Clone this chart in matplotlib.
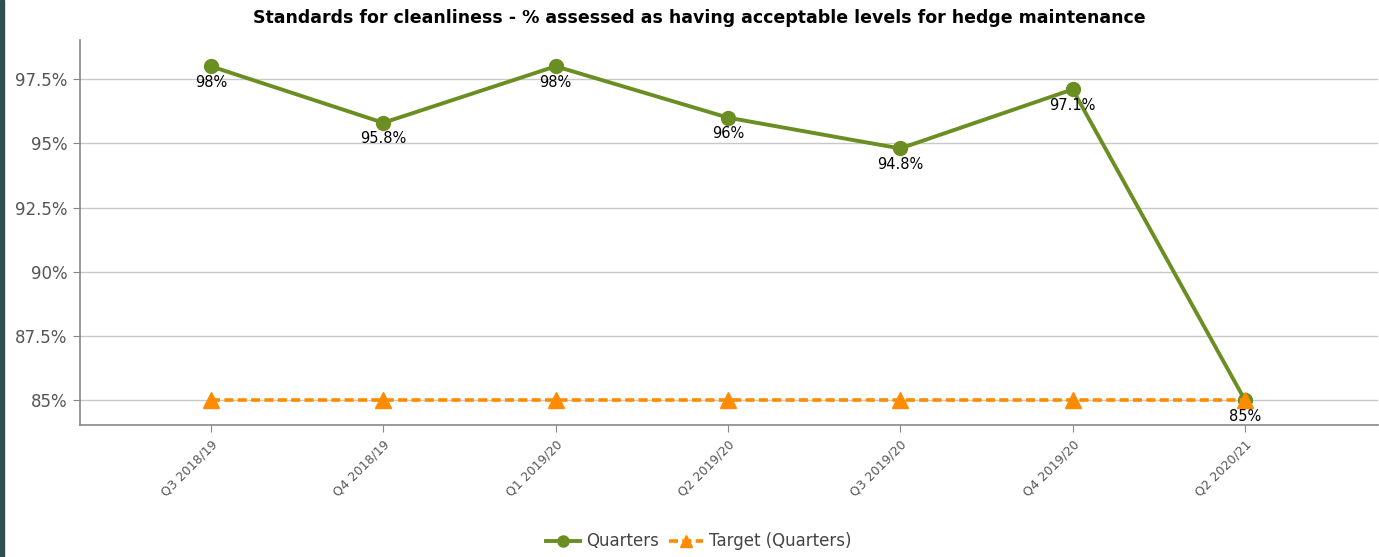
import matplotlib
matplotlib.use("Agg")
import matplotlib.pyplot as plt
from matplotlib.patches import Rectangle

categories = ["Q3 2018/19", "Q4 2018/19", "Q1 2019/20", "Q2 2019/20",
              "Q3 2019/20", "Q4 2019/20", "Q2 2020/21"]
quarters = [98.0, 95.8, 98.0, 96.0, 94.8, 97.1, 85.0]
quarter_labels = ["98%", "95.8%", "98%", "96%", "94.8%", "97.1%", "85%"]
target = [85, 85, 85, 85, 85, 85, 85]
yticks = [85, 87.5, 90, 92.5, 95, 97.5]
ytick_labels = ["85%", "87.5%", "90%", "92.5%", "95%", "97.5%"]

plt.rcParams['font.family'] = ['DejaVu Sans']

fig = plt.figure(figsize=(13.79, 5.57), dpi=100)
ax = fig.add_axes([0.058, 0.237, 0.941, 0.691])

x = list(range(len(categories)))
green = "#6b8e23"
orange = "#ff8c00"

ax.plot(x, quarters, color=green, lw=2.8, marker="o", markersize=10,
        label="Quarters", zorder=3)
ax.plot(x, target, color=orange, lw=2.6, ls=(0, (2.5, 1.2)), marker="^",
        markersize=11, label="Target (Quarters)", zorder=4)

for xi, yi, lab in zip(x, quarters, quarter_labels):
    ax.annotate(lab, (xi, yi), xytext=(0, -11.5), textcoords="offset points",
                ha="center", va="center", fontsize=10.5, color="black", zorder=5)

ax.set_xlim(-0.76, 6.77)
ax.set_ylim(84.03, 99.02)
ax.set_yticks(yticks)
ax.set_yticklabels(ytick_labels, fontsize=12, color="#555555")
ax.set_xticks(x)
ax.set_xticklabels(categories, rotation=45, ha="right", rotation_mode="anchor",
                   fontsize=9, color="#555555")
ax.tick_params(axis="x", length=5, color="#888888", pad=4)
ax.tick_params(axis="y", length=5, color="#888888", pad=4)
ax.grid(axis="y", color="#c8c8c8", lw=1)
ax.set_axisbelow(True)
for s in ["top", "right"]:
    ax.spines[s].set_visible(False)
for s in ["left", "bottom"]:
    ax.spines[s].set_color("#888888")
    ax.spines[s].set_linewidth(1.2)

fig.text(0.507, 0.968, "Standards for cleanliness - % assessed as having acceptable levels for hedge maintenance",
         ha="center", va="center", fontsize=12.5, fontweight="bold")

handles, labels = ax.get_legend_handles_labels()
leg = fig.legend(handles, labels, loc="center", bbox_to_anchor=(0.507, 0.028),
                 ncol=2, frameon=False, fontsize=12, handlelength=2.0,
                 columnspacing=0.6, handletextpad=0.4, markerscale=0.8)
for t in leg.get_texts():
    t.set_color("#444444")

fig.patches.append(Rectangle((0, 0), 0.003, 1, transform=fig.transFigure,
                             color="#2f4f4f", zorder=10))

fig.savefig("out.png", dpi=100)
